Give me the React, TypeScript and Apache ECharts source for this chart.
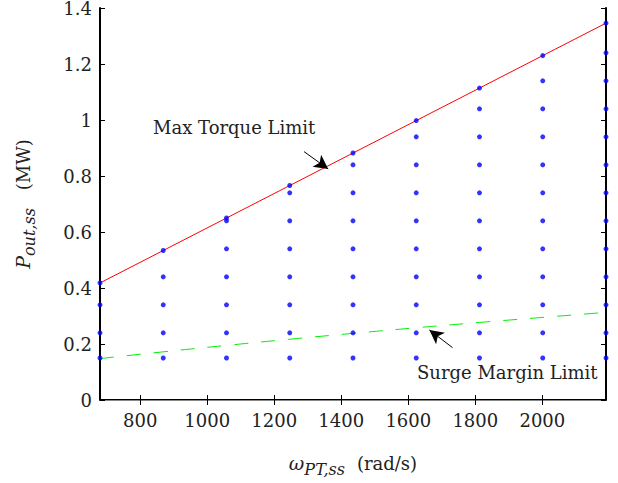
import React, { useEffect, useRef } from 'react';
import * as echarts from 'echarts';

// Shaft speeds of the operating-point columns (rad/s)
const speedColumns = [680, 868.75, 1057.5, 1246.25, 1435, 1623.75, 1812.5, 2001.25, 2190];

// Steady-state power of the operating points in every column (MW)
const operatingPoints: number[][] = [
  [0.15, 0.24, 0.34, 0.418],
  [0.15, 0.24, 0.34, 0.44, 0.534],
  [0.15, 0.24, 0.34, 0.44, 0.54, 0.64, 0.65],
  [0.15, 0.24, 0.34, 0.44, 0.54, 0.64, 0.74, 0.766],
  [0.15, 0.24, 0.34, 0.44, 0.54, 0.64, 0.74, 0.84, 0.882],
  [0.15, 0.24, 0.34, 0.44, 0.54, 0.64, 0.74, 0.84, 0.94, 0.998],
  [0.15, 0.24, 0.34, 0.44, 0.54, 0.64, 0.74, 0.84, 0.94, 1.04, 1.114],
  [0.15, 0.24, 0.34, 0.44, 0.54, 0.64, 0.74, 0.84, 0.94, 1.04, 1.14, 1.23],
  [0.15, 0.24, 0.34, 0.44, 0.54, 0.64, 0.74, 0.84, 0.94, 1.04, 1.14, 1.24, 1.346],
];

// Limit lines (MW) at the column speeds
const torqueLimitPower = [0.418, 0.534, 0.65, 0.766, 0.882, 0.998, 1.114, 1.23, 1.346];
const surgeLimitPower = [0.148, 0.172, 0.195, 0.217, 0.238, 0.258, 0.277, 0.295, 0.313];

// Axis ticks
const xTicks = [800, 1000, 1200, 1400, 1600, 1800, 2000];
const xRange = [680, 2190];
const yRange = [0, 1.4];
const yStep = 0.2;

// Annotation arrows [tail, head] in data coordinates
const torqueArrow = [[1289, 0.887], [1361, 0.825]];
const surgeArrow = [[1732, 0.187], [1663, 0.25]];

const FONT = '"DejaVu Serif"';
const TXT = '#222';

export default function App() {
  const ref = useRef<HTMLDivElement>(null);
  useEffect(() => {
    if (!ref.current) return;
    const chart = echarts.init(ref.current, undefined, { renderer: 'svg' });

    const scatterData: number[][] = [];
    operatingPoints.forEach((col, i) => col.forEach((p) => scatterData.push([speedColumns[i], p])));

    const nameRich = (gap: number) => ({
      m: { fontFamily: FONT, fontSize: 19, fontStyle: 'italic', color: TXT, lineHeight: 28, verticalAlign: 'middle' },
      sub: { fontFamily: FONT, fontSize: 16, fontStyle: 'italic', color: TXT, lineHeight: 14, verticalAlign: 'bottom' },
      n: { fontFamily: FONT, fontSize: 18, color: TXT, lineHeight: 28, verticalAlign: 'middle', padding: [0, 0, 0, gap] },
    });

    const baseX = {
      type: 'value',
      min: xRange[0],
      max: xRange[1],
      splitLine: { show: false },
    };
    const baseY = {
      type: 'value',
      min: yRange[0],
      max: yRange[1],
      interval: yStep,
      splitLine: { show: false },
    };

    chart.setOption({
      animation: false,
      backgroundColor: '#fff',
      grid: { left: 100, right: 12, top: 8, bottom: 83, containLabel: false, outerBoundsMode: 'none' },
      xAxis: [
        {
          ...baseX,
          position: 'bottom',
          axisLine: { lineStyle: { color: '#000', width: 2 } },
          axisTick: { inside: true, length: 5, customValues: xTicks, lineStyle: { color: '#000', width: 1 } },
          axisLabel: {
            customValues: xTicks,
            fontFamily: FONT,
            fontSize: 18,
            color: TXT,
            margin: 11,
            formatter: (v: number) => String(v),
          },
          name: '{m|ω}{sub|PT,ss}{n|(rad/s)}',
          nameLocation: 'middle',
          nameGap: 49,
          nameTextStyle: { rich: nameRich(12) },
        },
        {
          ...baseX,
          position: 'top',
          axisLine: { lineStyle: { color: '#888', width: 1 } },
          axisTick: { inside: true, length: 5, customValues: xTicks, lineStyle: { color: '#000', width: 1 } },
          axisLabel: { show: false },
        },
      ],
      yAxis: [
        {
          ...baseY,
          position: 'left',
          axisLine: { lineStyle: { color: '#000', width: 2 } },
          axisTick: { inside: true, length: 5, lineStyle: { color: '#000', width: 1 } },
          axisLabel: {
            fontFamily: FONT,
            fontSize: 18,
            color: TXT,
            margin: 8,
            formatter: (v: number) => String(Math.round(v * 10) / 10),
          },
          name: '{m|P}{sub|out,ss}{n|(MW)}',
          nameLocation: 'middle',
          nameGap: 63,
          nameTextStyle: { rich: nameRich(18) },
        },
        {
          ...baseY,
          position: 'right',
          axisLine: { lineStyle: { color: '#000', width: 2 } },
          axisTick: { inside: true, length: 5, lineStyle: { color: '#000', width: 1 } },
          axisLabel: { show: false },
        },
      ],
      series: [
        {
          type: 'line',
          data: speedColumns.map((x, i) => [x, torqueLimitPower[i]]),
          symbol: 'none',
          lineStyle: { color: '#ff0000', width: 1 },
          silent: true,
          z: 2,
        },
        {
          type: 'line',
          data: speedColumns.map((x, i) => [x, surgeLimitPower[i]]),
          symbol: 'none',
          smooth: true,
          lineStyle: { color: '#00ee00', width: 1, type: [14, 13] },
          silent: true,
          z: 2,
        },
        {
          type: 'scatter',
          data: scatterData,
          symbol: 'circle',
          symbolSize: 5,
          itemStyle: { color: '#0000ff' },
          silent: true,
          z: 3,
          markLine: {
            silent: true,
            symbol: ['none', 'arrow'],
            symbolSize: [11, 14],
            label: { show: false },
            lineStyle: { color: '#000', width: 1, type: 'solid' },
            data: [
              [{ coord: torqueArrow[0] }, { coord: torqueArrow[1] }],
              [{ coord: surgeArrow[0] }, { coord: surgeArrow[1] }],
            ],
          },
        },
      ],
      graphic: [
        {
          type: 'text',
          left: 153,
          top: 118,
          style: { text: 'Max Torque Limit', font: `18px ${FONT}`, fill: TXT },
        },
        {
          type: 'text',
          left: 417,
          top: 363,
          style: { text: 'Surge Margin Limit', font: `18px ${FONT}`, fill: TXT },
        },
      ],
    });
    return () => chart.dispose();
  }, []);
  return <div ref={ref} style={{ position: 'fixed', left: 0, top: 0, width: 618, height: 483, background: '#fff' }} />;
}
